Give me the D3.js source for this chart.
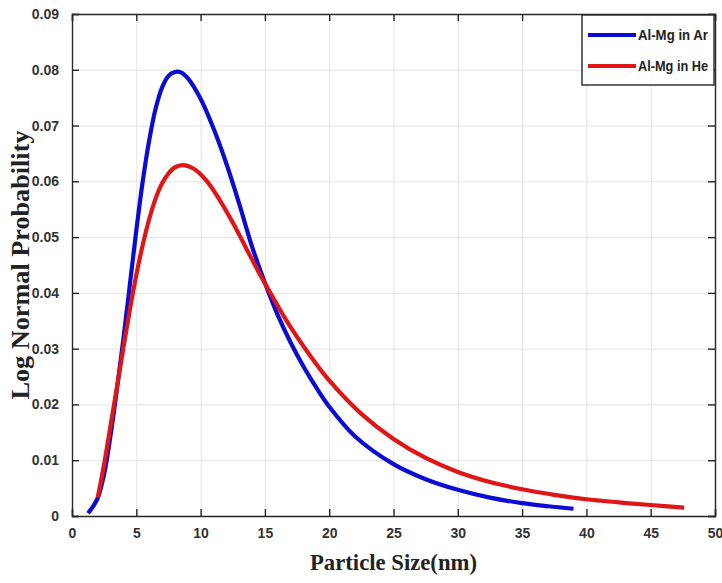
<!DOCTYPE html>
<html>
<head>
<meta charset="utf-8">
<script src="https://cdn.jsdelivr.net/npm/d3@7"></script>
<style>
    body { margin: 0; background: #fff; }
    svg { display: block; }
</style>
</head>
<body>
<div id="chart"></div>
<script>
let xTicks = [0, 5, 10, 15, 20, 25, 30, 35, 40, 45, 50];
let yTicks = [0, 0.01, 0.02, 0.03, 0.04, 0.05, 0.06, 0.07, 0.08, 0.09];

let arSize = [1.25, 1.6, 2.0, 2.5, 3.0, 3.5, 4.0, 4.5, 5.0, 5.5, 6.0, 6.5, 7.0, 7.5, 8.0, 8.5, 9.0, 10.0, 11.0, 12.0, 13.0, 14.0, 15.0, 16.0, 17.0, 18.0, 19.0, 20.0, 22.0, 25.0, 27.5, 30.0, 32.5, 35.0, 37.0, 39.0];
let arProb = [0.0005, 0.0016, 0.0032, 0.0075, 0.0145, 0.0228, 0.0318, 0.0415, 0.0512, 0.0600, 0.0673, 0.0730, 0.0768, 0.0789, 0.0796, 0.0795, 0.0785, 0.0748, 0.0695, 0.0632, 0.0560, 0.0483, 0.0418, 0.0360, 0.0311, 0.0268, 0.0230, 0.0196, 0.0143, 0.0093, 0.0066, 0.0047, 0.0033, 0.0023, 0.00175, 0.0013];

let heSize = [2.0, 2.5, 3.0, 3.5, 4.0, 4.5, 5.0, 5.5, 6.0, 6.5, 7.0, 7.5, 8.0, 8.6, 9.5, 10.5, 11.5, 12.5, 13.5, 14.5, 15.5, 16.5, 17.5, 18.5, 20.0, 22.5, 25.0, 27.5, 30.0, 32.5, 35.0, 37.5, 40.0, 42.5, 45.0, 47.6];
let heProb = [0.0033, 0.0093, 0.0162, 0.0232, 0.0302, 0.0370, 0.0432, 0.0486, 0.0532, 0.0569, 0.0596, 0.0614, 0.0625, 0.0629, 0.0622, 0.0600, 0.0566, 0.0526, 0.0482, 0.0438, 0.0397, 0.0357, 0.0321, 0.0288, 0.0243, 0.0183, 0.0138, 0.0104, 0.0079, 0.0061, 0.0048, 0.0038, 0.0030, 0.00245, 0.00197, 0.0015];

let seriesNames = ["Al-Mg in Ar", "Al-Mg in He"];
let seriesColors = ["#0b0bd6", "#e01515"];

function zip(xs, ys) {
    return xs.map((d, i) => ({x: d, y: ys[i]}));
}

function draw_chart() {
    let width = 722, height = 583;
    let margin = ({top: 14, right: 7, bottom: 67, left: 72});

    let svg = d3.select("#chart").append("svg")
        .attr("width", width)
        .attr("height", height);

    let x = d3.scaleLinear()
        .domain([0, 50])
        .range([margin.left, width - margin.right]);
    let y = d3.scaleLinear()
        .domain([0, 0.09])
        .range([height - margin.bottom, margin.top]);

    let plotW = width - margin.left - margin.right;
    let plotH = height - margin.top - margin.bottom;

    // grid
    svg.append("g")
        .attr("transform", `translate(0, ${height - margin.bottom})`)
        .call(d3.axisBottom(x).tickValues(xTicks).tickSize(-plotH).tickFormat(""))
        .call(g => g.select(".domain").remove())
        .call(g => g.selectAll("line").attr("stroke", "#e3e3e3"));
    svg.append("g")
        .attr("transform", `translate(${margin.left}, 0)`)
        .call(d3.axisLeft(y).tickValues(yTicks).tickSize(-plotW).tickFormat(""))
        .call(g => g.select(".domain").remove())
        .call(g => g.selectAll("line").attr("stroke", "#e3e3e3"));

    let line = d3.line()
        .x(d => x(d.x))
        .y(d => y(d.y))
        .curve(d3.curveCatmullRom.alpha(0.5));

    let series = [zip(arSize, arProb), zip(heSize, heProb)];
    series.forEach((s, i) => {
        svg.append("path")
            .datum(s)
            .attr("fill", "none")
            .attr("stroke", seriesColors[i])
            .attr("stroke-width", 4.2)
            .attr("stroke-linejoin", "round")
            .attr("d", line);
    });

    let axisColor = "#262626";
    let tickFont = g => g.selectAll("text")
        .attr("font-family", "Liberation Sans, Arial, sans-serif")
        .attr("font-weight", "bold")
        .attr("font-size", 14)
        .attr("fill", "#333");

    svg.append("g")
        .attr("transform", `translate(0, ${height - margin.bottom})`)
        .call(d3.axisBottom(x).tickValues(xTicks).tickSize(-7).tickPadding(12))
        .call(tickFont)
        .call(g => g.selectAll("line,path").attr("stroke", axisColor).attr("stroke-width", 1.4));
    svg.append("g")
        .attr("transform", `translate(0, ${margin.top})`)
        .call(d3.axisTop(x).tickValues(xTicks).tickSize(-7).tickFormat(""))
        .call(g => g.selectAll("line,path").attr("stroke", axisColor).attr("stroke-width", 1.4));
    svg.append("g")
        .attr("transform", `translate(${margin.left}, 0)`)
        .call(d3.axisLeft(y).tickValues(yTicks).tickSize(-7).tickPadding(13).tickFormat(d => d === 0 ? "0" : d3.format(".2f")(d)))
        .call(tickFont)
        .call(g => g.selectAll("line,path").attr("stroke", axisColor).attr("stroke-width", 1.4));
    svg.append("g")
        .attr("transform", `translate(${width - margin.right}, 0)`)
        .call(d3.axisRight(y).tickValues(yTicks).tickSize(-7).tickFormat(""))
        .call(g => g.selectAll("line,path").attr("stroke", axisColor).attr("stroke-width", 1.4));

    svg.append("text")
        .attr("x", (margin.left + width - margin.right) / 2)
        .attr("y", 570)
        .attr("text-anchor", "middle")
        .attr("font-family", "Liberation Serif, Times New Roman, serif")
        .attr("font-weight", "bold")
        .attr("font-size", 24)
        .attr("fill", "#222")
        .attr("textLength", 167)
        .attr("lengthAdjust", "spacingAndGlyphs")
        .text("Particle Size(nm)");

    svg.append("text")
        .attr("transform", `translate(29, ${(margin.top + height - margin.bottom) / 2}) rotate(-90)`)
        .attr("text-anchor", "middle")
        .attr("font-family", "Liberation Serif, Times New Roman, serif")
        .attr("font-weight", "bold")
        .attr("font-size", 25)
        .attr("fill", "#222")
        .attr("textLength", 269)
        .attr("lengthAdjust", "spacingAndGlyphs")
        .text("Log Normal Probability");

    // legend
    let legend = svg.append("g").attr("transform", "translate(582, 15)");
    legend.append("rect")
        .attr("width", 132)
        .attr("height", 70)
        .attr("fill", "#fff")
        .attr("stroke", axisColor)
        .attr("stroke-width", 1.4);
    seriesNames.forEach((name, i) => {
        let ly = 20 + i * 31;
        legend.append("line")
            .attr("x1", 6).attr("x2", 54)
            .attr("y1", ly).attr("y2", ly)
            .attr("stroke", seriesColors[i])
            .attr("stroke-width", 4.2);
        legend.append("text")
            .attr("x", 56)
            .attr("y", ly + 5)
            .attr("font-family", "Liberation Sans, Arial, sans-serif")
            .attr("font-weight", "bold")
            .attr("font-size", 14)
            .attr("fill", "#222")
            .attr("textLength", 70)
            .attr("lengthAdjust", "spacingAndGlyphs")
            .text(name);
    });
}

draw_chart();
</script>
</body>
</html>
